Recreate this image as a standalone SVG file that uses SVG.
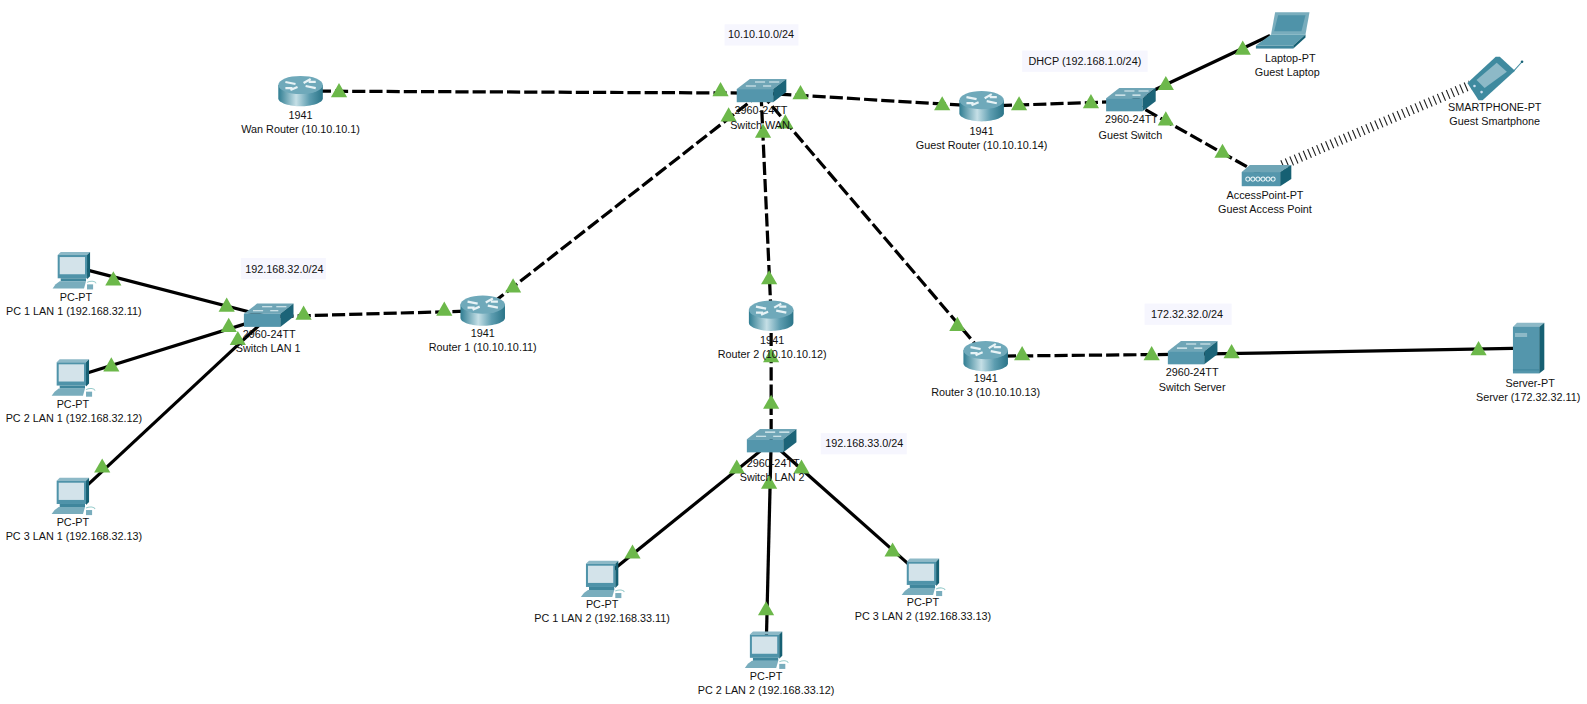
<svg xmlns="http://www.w3.org/2000/svg" width="1587" height="704" viewBox="0 0 1587 704">
<style>
text{font-family:"Liberation Sans",Arial,sans-serif;font-size:10.7px;fill:#111;text-anchor:middle}
.l{fill:none;stroke:#000;stroke-width:3.2}
.d{stroke-dasharray:13 4}
.t{fill:#6cb84a}
.b{fill:#f6f6fe}
</style>
<defs>
<linearGradient id="rg" x1="0" x2="1" y1="0" y2="0"><stop offset="0" stop-color="#2f7d92"/><stop offset=".4" stop-color="#c5dfe6"/><stop offset=".7" stop-color="#5d9db0"/><stop offset="1" stop-color="#2a7488"/></linearGradient>
<polygon id="tri" points="0,-8 8,6 -8,6"/>
<g id="router">
<path d="M-22,-6V7C-22,12 -10,15 0,15C10,15 22,12 22,7V-6Z" fill="url(#rg)"/>
<ellipse cx="0" cy="-6" rx="22" ry="9" fill="#6fa9ba"/>
<path d="M-15,-9L-5,-7M15,-3L5,-5M-10,-1L-3,-4M10,-12L3,-8M-15,-3L-8,-3M15,-9L8,-9" stroke="#e8f3f6" stroke-width="2.200" fill="none"/>
</g>
<g id="switch">
<polygon points="-24,-3 -11,-13 25,-13 12,-3" fill="#6fa5b6"/>
<rect x="-24" y="-3" width="36" height="13" fill="#5496ac"/>
<polygon points="12,-3 25,-13 25,0 12,10" fill="#1c6478"/>
<path d="M-15,-6H-5M-6,-10H4M2,-6H10M8,-10H18" stroke="#e8f3f6" stroke-width="1" fill="none"/>
</g>
<g id="pc">
<polygon points="-16,-15 -13,-18 16,-18 13,-15" fill="#8db9c7"/>
<rect x="-16" y="-15" width="29" height="23" fill="#4f93a9"/>
<polygon points="13,-15 16,-18 16,6 13,9" fill="#166073"/>
<rect x="-14" y="-13" width="25" height="17" fill="#d3e3ea"/>
<rect x="-13" y="8" width="25" height="3" fill="#3f869c"/>
<polygon points="-18,14 -14,11 12,11 10,18 -21,18" fill="#79adbd"/>
<path d="M13,12C17,10 21,11 22,13" stroke="#9cc" fill="none"/>
<rect x="13" y="14" width="6" height="5" fill="#79adbd"/>
</g>
<g id="laptop">
<polygon points="-8,-18 26,-18 22,4 -12,4" fill="#79adbd"/>
<polygon points="-5,-15 22,-15 18,1 -9,1" fill="#4f93a9"/>
<polygon points="-27,15 -12,4 22,4 10,15" fill="#5d9db0"/>
<rect x="-27" y="15" width="37" height="3" fill="#3f869c"/>
<polygon points="10,15 22,4 22,7 10,18" fill="#166073"/>
</g>
<g id="ap">
<rect x="-23" y="-4" width="38" height="14" fill="#5496ac"/>
<polygon points="-23,-4 -15,-11 26,-11 15,-4" fill="#6fa5b6"/>
<polygon points="15,-4 26,-11 26,3 15,10" fill="#166073"/>
<path d="M-19,3a2,2 0 1 0 4,0a2,2 0 1 0 -4,0m5,0a2,2 0 1 0 4,0a2,2 0 1 0 -4,0m5,0a2,2 0 1 0 4,0a2,2 0 1 0 -4,0m5,0a2,2 0 1 0 4,0a2,2 0 1 0 -4,0m5,0a2,2 0 1 0 4,0a2,2 0 1 0 -4,0m5,0a2,2 0 1 0 4,0a2,2 0 1 0 -4,0" stroke="#e8f3f6" fill="none"/>
</g>
<g id="phone">
<polygon points="-23,5 5,-21 9,-21 24,-7 -8,22 -12,22" fill="#3f8a9f"/>
<polygon points="-14,2 6,-15 16,-6 -6,10" fill="#8db9c7"/>
<circle cx="-16" cy="8" r="1.300" fill="#cde"/>
<circle cx="-9" cy="14" r="1.300" fill="#cde"/>
<path d="M22,-6L31,-16" stroke="#3f8a9f" fill="none"/>
<circle cx="31" cy="-16" r="1.300" fill="#1c6478"/>
</g>
<g id="server">
<polygon points="-15,-21 -11,-25 16,-25 11,-21" fill="#8db9c7"/>
<rect x="-15" y="-21" width="26" height="46" fill="#5496ac"/>
<polygon points="11,-21 16,-25 16,21 11,25" fill="#166073"/>
<rect x="-13" y="-15" width="12" height="4" fill="#8db9c7"/>
<rect x="-15" y="21" width="26" height="1" fill="#3f869c"/>
</g>
</defs>
<rect width="1587" height="704" fill="#fff"/>
<g transform="scale(1.012)">
<g id="connectors">
<path class="l d" d="M297,90L752,92"/>
<path class="l d" d="M752,92L970,105"/>
<path class="l d" d="M970,105L1117,100"/>
<path class="l" d="M1117,100L1255,35"/>
<path class="l d" d="M1117,100L1245,172"/>
<path d="M1267,163L1453,84" fill="none" stroke="#222" stroke-width="9.500" stroke-dasharray="1.100 3.700"/>
<path class="l d" d="M752,92L477,307"/>
<path class="l d" d="M752,92L762,312"/>
<path class="l d" d="M752,92L974,352"/>
<path class="l d" d="M477,307L265,313"/>
<path class="l" d="M75,264L265,313"/>
<path class="l" d="M75,372L265,313"/>
<path class="l" d="M75,490L265,313"/>
<path class="l d" d="M762,312L762,437"/>
<path class="l" d="M762,437L595,572"/>
<path class="l" d="M762,437L757,644"/>
<path class="l" d="M762,437L912,570"/>
<path class="l d" d="M974,352L1178,350"/>
<path class="l" d="M1178,350L1512,344"/>
<g class="t">
<use href="#tri" x="335" y="90"/><use href="#tri" x="712" y="89"/>
<use href="#tri" x="791" y="92"/><use href="#tri" x="931" y="103"/>
<use href="#tri" x="1007" y="103"/><use href="#tri" x="1078" y="101"/>
<use href="#tri" x="1152" y="83"/><use href="#tri" x="1228" y="48"/>
<use href="#tri" x="1152" y="118"/><use href="#tri" x="1208" y="150"/>
<use href="#tri" x="720" y="114"/><use href="#tri" x="507" y="283"/>
<use href="#tri" x="754" y="130"/><use href="#tri" x="760" y="275"/>
<use href="#tri" x="776" y="121"/><use href="#tri" x="946" y="321"/>
<use href="#tri" x="439" y="306"/><use href="#tri" x="300" y="310"/>
<use href="#tri" x="112" y="276"/><use href="#tri" x="224" y="302"/>
<use href="#tri" x="110" y="361"/><use href="#tri" x="226" y="322"/>
<use href="#tri" x="101" y="461"/><use href="#tri" x="235" y="335"/>
<use href="#tri" x="762" y="352"/><use href="#tri" x="762" y="398"/>
<use href="#tri" x="728" y="462"/><use href="#tri" x="625" y="546"/>
<use href="#tri" x="760" y="477"/><use href="#tri" x="757" y="602"/>
<use href="#tri" x="792" y="462"/><use href="#tri" x="882" y="544"/>
<use href="#tri" x="1010" y="350"/><use href="#tri" x="1138" y="350"/>
<use href="#tri" x="1217" y="348"/><use href="#tri" x="1461" y="345"/>
</g>
</g>
<g id="wan-router"><use href="#router" x="297" y="90"/><text x="297" y="118">1941</text><text x="297" y="131">Wan Router (10.10.10.1)</text></g>
<g id="switch-wan"><use href="#switch" x="752" y="91"/><text x="752" y="113">2960-24TT</text><text x="751" y="127">Switch WAN</text></g>
<g id="guest-router"><use href="#router" x="970" y="105"/><text x="970" y="133">1941</text><text x="970" y="147">Guest Router (10.10.10.14)</text></g>
<g id="guest-switch"><use href="#switch" x="1117" y="100"/><text x="1118" y="122">2960-24TT</text><text x="1117" y="137">Guest Switch</text></g>
<g id="guest-laptop"><use href="#laptop" x="1268" y="30"/><text x="1275" y="61">Laptop-PT</text><text x="1272" y="75">Guest Laptop</text></g>
<g id="guest-smartphone"><use href="#phone" x="1473" y="77"/><text x="1477" y="110">SMARTPHONE-PT</text><text x="1477" y="124">Guest Smartphone</text></g>
<g id="guest-ap"><use href="#ap" x="1250" y="174"/><text x="1250" y="197">AccessPoint-PT</text><text x="1250" y="210">Guest Access Point</text></g>
<g id="pc1-lan1"><use href="#pc" x="73" y="267"/><text x="75" y="297">PC-PT</text><text x="73" y="311">PC 1 LAN 1 (192.168.32.11)</text></g>
<g id="pc2-lan1"><use href="#pc" x="72" y="373"/><text x="72" y="403">PC-PT</text><text x="73" y="417">PC 2 LAN 1 (192.168.32.12)</text></g>
<g id="pc3-lan1"><use href="#pc" x="72" y="490"/><text x="72" y="520">PC-PT</text><text x="73" y="534">PC 3 LAN 1 (192.168.32.13)</text></g>
<g id="switch-lan1"><use href="#switch" x="265" y="313"/><text x="266" y="334">2960-24TT</text><text x="265" y="348">Switch LAN 1</text></g>
<g id="router1"><use href="#router" x="477" y="307"/><text x="477" y="333">1941</text><text x="477" y="347">Router 1 (10.10.10.11)</text></g>
<g id="router2"><use href="#router" x="762" y="312"/><text x="763" y="340">1941</text><text x="763" y="354">Router 2 (10.10.10.12)</text></g>
<g id="router3"><use href="#router" x="974" y="352"/><text x="974" y="377">1941</text><text x="974" y="391">Router 3 (10.10.10.13)</text></g>
<g id="switch-server"><use href="#switch" x="1178" y="350"/><text x="1178" y="372">2960-24TT</text><text x="1178" y="386">Switch Server</text></g>
<g id="server-pt"><use href="#server" x="1510" y="344"/><text x="1512" y="382">Server-PT</text><text x="1510" y="396">Server (172.32.32.11)</text></g>
<g id="switch-lan2"><use href="#switch" x="762" y="437"/><text x="764" y="461">2960-24TT</text><text x="763" y="475">Switch LAN 2</text></g>
<g id="pc1-lan2"><use href="#pc" x="595" y="572"/><text x="595" y="601">PC-PT</text><text x="595" y="615">PC 1 LAN 2 (192.168.33.11)</text></g>
<g id="pc2-lan2"><use href="#pc" x="757" y="642"/><text x="757" y="672">PC-PT</text><text x="757" y="686">PC 2 LAN 2 (192.168.33.12)</text></g>
<g id="pc3-lan2"><use href="#pc" x="912" y="570"/><text x="912" y="599">PC-PT</text><text x="912" y="613">PC 3 LAN 2 (192.168.33.13)</text></g>
<g id="note-wan"><rect class="b" x="716" y="24" width="73" height="21"/><text x="752" y="38">10.10.10.0/24</text></g>
<g id="note-dhcp"><rect class="b" x="1010" y="50" width="124" height="21"/><text x="1072" y="64">DHCP (192.168.1.0/24)</text></g>
<g id="note-lan1"><rect class="b" x="238" y="255" width="84" height="21"/><text x="281" y="270">192.168.32.0/24</text></g>
<g id="note-server"><rect class="b" x="1131" y="300" width="86" height="21"/><text x="1173" y="314">172.32.32.0/24</text></g>
<g id="note-lan2"><rect class="b" x="811" y="428" width="85" height="21"/><text x="854" y="442">192.168.33.0/24</text></g>
</g>
</svg>
